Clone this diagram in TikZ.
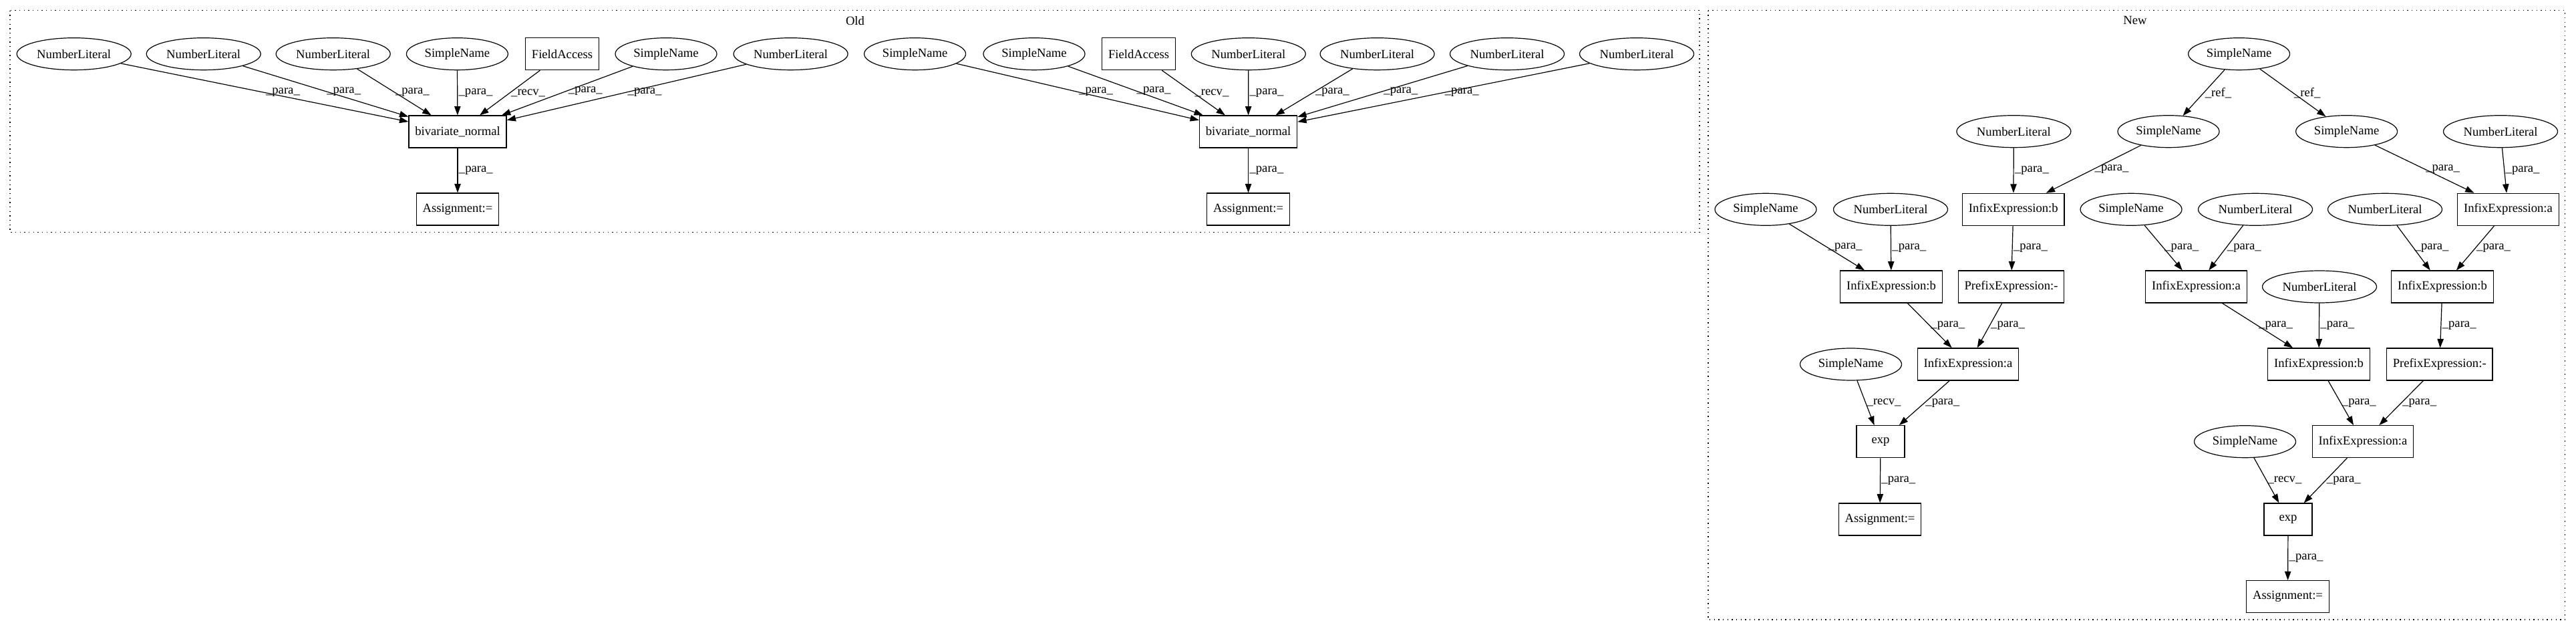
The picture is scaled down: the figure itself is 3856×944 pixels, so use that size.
\documentclass[tikz,border=0pt]{standalone}
\usepackage{fontspec}
\setmainfont{Liberation Serif}
\usetikzlibrary{arrows.meta,shapes.geometric}
\begin{document}
\begin{tikzpicture}[x=0.75pt, y=-0.75pt, font=\fontsize{14}{16}\selectfont, line width=0.9pt,
  astoval/.style={draw, ellipse, inner xsep=3.75pt, inner ysep=2pt, minimum width=54pt, minimum height=36pt},
  astbox/.style={draw, rectangle, inner xsep=7pt, minimum width=54pt, minimum height=36pt},
  edge/.style={-{Triangle[length=10pt, width=7pt]}},
  lbl/.style={anchor=west, inner sep=1pt},
  cluster/.style={dash pattern=on 1pt off 4pt}]
\useasboundingbox (0,0) rectangle (3856,944);
% clusters
\draw[cluster] (15,15.7) rectangle (2544,347.7);
\node (oldlbl) at (1280,30.7) {Old};
\draw[cluster] (2557,15.7) rectangle (3839.5,927);
\node (newlbl) at (3196,30.7) {New};
% old, first call
\node[astbox] (bn1) at (685,197) {bivariate\_normal};
\node[astbox] (as1) at (685,313) {Assignment:=};
\foreach \n/\x/\s/\t/\e in {a1/110.7/astoval/NumberLiteral/para, a2/304.7/astoval/NumberLiteral/para,
    a3/498.7/astoval/NumberLiteral/para, a4/684.4/astoval/SimpleName/para, a5/841.5/astbox/FieldAccess/recv,
    a6/997/astoval/SimpleName/para, a7/1183.6/astoval/NumberLiteral/para} {
  \node[\s] (\n) at (\x,80.7) {\t};
  \draw[edge] (\n) -- node[lbl] {\_\e\_} (bn1);
}
\draw[edge] (bn1) -- node[lbl] {\_para\_} (as1);
% old, second call
\node[astbox] (bn2) at (1868.6,197) {bivariate\_normal};
\node[astbox] (as2) at (1868.6,313) {Assignment:=};
\foreach \n/\x/\s/\t/\e in {d1/1369.6/astoval/SimpleName/para, d2/1548/astoval/SimpleName/para,
    d3/1704.6/astbox/FieldAccess/recv, d4/1868.8/astoval/NumberLiteral/para, d5/2061.6/astoval/NumberLiteral/para,
    d6/2256/astoval/NumberLiteral/para, d7/2450/astoval/NumberLiteral/para} {
  \node[\s] (\n) at (\x,80.7) {\t};
  \draw[edge] (\n) -- node[lbl] {\_\e\_} (bn2);
}
\draw[edge] (bn2) -- node[lbl] {\_para\_} (as2);
% new
\node[astoval] (sn0) at (3351.6,80.7) {SimpleName};
\node[astoval] (nl1) at (3014.4,196.7) {NumberLiteral};
\node[astoval] (sn1) at (3246,196.7) {SimpleName};
\node[astoval] (sn2) at (3512.6,196.7) {SimpleName};
\node[astoval] (nl2) at (3743,196.7) {NumberLiteral};
\node[astoval] (sn3) at (2643,313.3) {SimpleName};
\node[astoval] (nl3) at (2830,313.3) {NumberLiteral};
\node[astbox] (ib1) at (3013.8,313.3) {InfixExpression:b};
\node[astoval] (sn4) at (3190,313.3) {SimpleName};
\node[astoval] (nl4) at (3376,313.3) {NumberLiteral};
\node[astoval] (nl5) at (3570,313.3) {NumberLiteral};
\node[astbox] (ia1) at (3754.5,313.3) {InfixExpression:a};
\node[astbox] (ib2) at (2831,429) {InfixExpression:b};
\node[astbox] (pe1) at (3010.5,429) {PrefixExpression:-};
\node[astbox] (ia2) at (3287.5,429) {InfixExpression:a};
\node[astoval] (nl6) at (3472,429) {NumberLiteral};
\node[astbox] (ib3) at (3656,429) {InfixExpression:b};
\node[astoval] (sn5) at (2770.5,545) {SimpleName};
\node[astbox] (ia3) at (2946,545) {InfixExpression:a};
\node[astbox] (ib4) at (3471,545) {InfixExpression:b};
\node[astbox] (pe2) at (3651.7,545) {PrefixExpression:-};
\node[astbox] (ex1) at (2815,660.7) {exp};
\node[astoval] (sn6) at (3360.5,660.7) {SimpleName};
\node[astbox] (ia4) at (3537,660.7) {InfixExpression:a};
\node[astbox] (as3) at (2814,777) {Assignment:=};
\node[astbox] (ex2) at (3425,777) {exp};
\node[astbox] (as4) at (3424.5,892.7) {Assignment:=};
\draw[edge] (sn0) -- node[lbl] {\_ref\_} (sn1);
\draw[edge] (sn0) -- node[lbl] {\_ref\_} (sn2);
\foreach \a/\b in {nl1/ib1, sn1/ib1, sn2/ia1, nl2/ia1, sn3/ib2, nl3/ib2, ib1/pe1, sn4/ia2, nl4/ia2,
    nl5/ib3, ia1/ib3, ib2/ia3, pe1/ia3, ia2/ib4, nl6/ib4, ib3/pe2, ia3/ex1, ib4/ia4, pe2/ia4,
    ia4/ex2, ex1/as3, ex2/as4}
  \draw[edge] (\a) -- node[lbl] {\_para\_} (\b);
\draw[edge] (sn5) -- node[lbl] {\_recv\_} (ex1);
\draw[edge] (sn6) -- node[lbl] {\_recv\_} (ex2);
\end{tikzpicture}
\end{document}
